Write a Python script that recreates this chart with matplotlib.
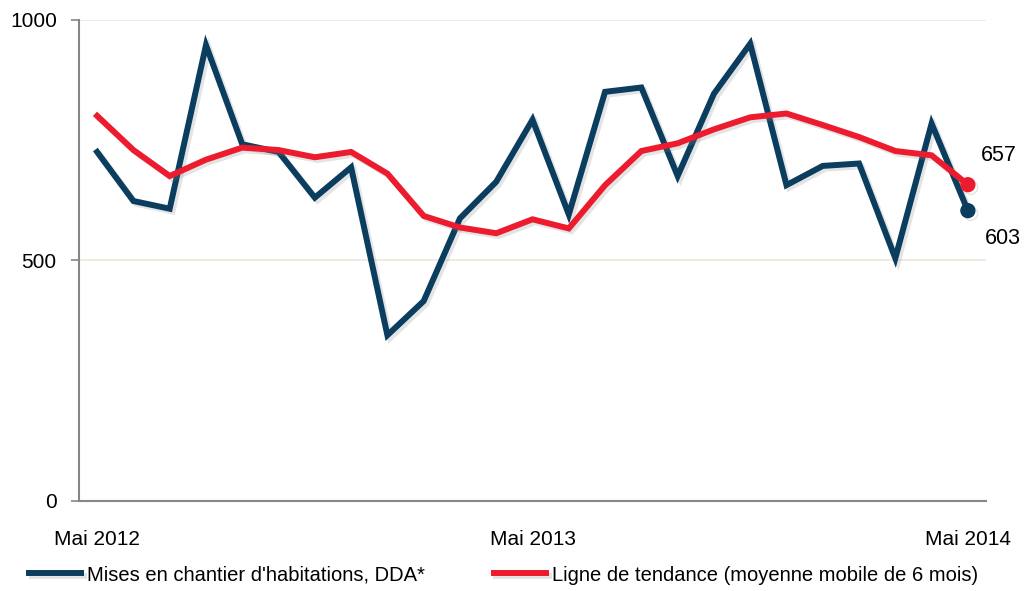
import matplotlib
matplotlib.use('Agg')
import matplotlib.pyplot as plt
import matplotlib.patheffects as pe

plt.rcParams['font.family'] = ['Liberation Sans', 'DejaVu Sans']

# Monthly data, May 2012 to May 2014
months = ['Mai 2012', 'Jun 2012', 'Jul 2012', 'Aoû 2012', 'Sep 2012', 'Oct 2012', 'Nov 2012',
          'Déc 2012', 'Jan 2013', 'Fév 2013', 'Mar 2013', 'Avr 2013', 'Mai 2013', 'Jun 2013',
          'Jul 2013', 'Aoû 2013', 'Sep 2013', 'Oct 2013', 'Nov 2013', 'Déc 2013', 'Jan 2014',
          'Fév 2014', 'Mar 2014', 'Avr 2014', 'Mai 2014']
starts = [725, 623, 607, 947, 741, 725, 630, 693, 344, 415, 587, 663, 792,
          595, 850, 859, 675, 846, 950, 656, 696, 701, 504, 784, 603]
trend = [800, 729, 675, 709, 734, 729, 714, 725, 680, 592, 568, 556, 585,
         566, 656, 727, 743, 772, 797, 805, 781, 756, 727, 718, 657]
shown_ticks = ['Mai 2012', 'Mai 2013', 'Mai 2014']

blue = '#0a3d5e'
red = '#ec1c2e'

fig = plt.figure(figsize=(10.34, 5.91), dpi=100)
ax = fig.add_axes([0.0764, 0.1528, 0.8772, 0.8139])

x = list(range(len(months)))
shadow = [pe.SimpleLineShadow(offset=(2, -2), shadow_color='#888888', alpha=0.22), pe.Normal()]

ax.plot(x, starts, color=blue, lw=4.3, solid_joinstyle='miter', path_effects=shadow,
        label="Mises en chantier d'habitations, DDA*", zorder=3)
ax.plot(x, trend, color=red, lw=4.3, solid_joinstyle='miter', path_effects=shadow,
        label='Ligne de tendance (moyenne mobile de 6 mois)', zorder=4)

# end markers
ax.plot(x[-1], trend[-1], 'o', color=red, ms=10, zorder=5, path_effects=shadow)
ax.plot(x[-1], starts[-1], 'o', color=blue, ms=10, zorder=5, path_effects=shadow)
ax.annotate(str(trend[-1]), (x[-1], trend[-1]), xytext=(22, 21), textcoords='offset points',
            ha='center', va='center', fontsize=15.5)
ax.annotate(str(starts[-1]), (x[-1], starts[-1]), xytext=(25, -20), textcoords='offset points',
            ha='center', va='center', fontsize=15.5)

ax.set_xlim(-0.5, len(months) - 0.5)
ax.set_ylim(0, 1000)
ax.set_yticks([0, 500, 1000])
ax.set_xticks([months.index(m) for m in shown_ticks])
ax.set_xticklabels(shown_ticks)
ax.tick_params(axis='x', length=0, pad=21, labelsize=15)
ax.tick_params(axis='y', length=6, width=1.2, color='#868686', pad=10, labelsize=15)

for y in [500, 1000]:
    ax.axhline(y, color='#ebe7dc', lw=1.2, zorder=1)

for s in ['top', 'right']:
    ax.spines[s].set_visible(False)
for s in ['left', 'bottom']:
    ax.spines[s].set_color('#868686')
    ax.spines[s].set_linewidth(1.5)

fig.legend(loc='center left', bbox_to_anchor=(0.028, 0.027), ncol=2, frameon=False,
           fontsize=14.5, handlelength=2.6, handletextpad=0.3, columnspacing=3.4,
           borderpad=0, borderaxespad=0)

fig.savefig('out.png', dpi=100)
